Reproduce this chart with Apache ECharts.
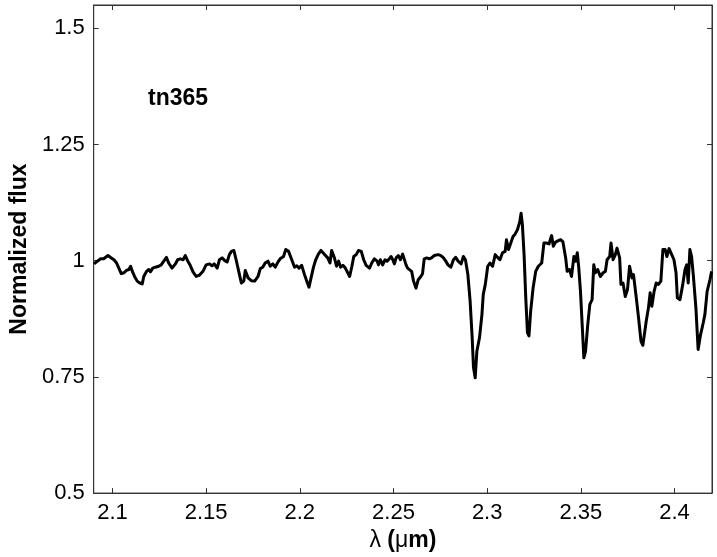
<!DOCTYPE html>
<html>
<head>
<meta charset="utf-8">
<script src="https://cdn.jsdelivr.net/npm/echarts@6/dist/echarts.min.js"></script>
<style>
  html, body { margin: 0; padding: 0; background: #fff; }
  #chart { width: 717px; height: 557px; }
</style>
</head>
<body>
<div id="chart"></div>
<script>
// wavelength (micron) and normalized flux
const wavelength = [
  2.0902, 2.0911, 2.0923, 2.0937, 2.0953, 2.0976, 2.0990, 2.1008, 2.1022, 2.1034,
  2.1047, 2.1061, 2.1075, 2.1088, 2.1097, 2.1106, 2.1118, 2.1132, 2.1146, 2.1159,
  2.1167, 2.1182, 2.1194, 2.1203, 2.1215, 2.1229, 2.1247, 2.1260, 2.1274, 2.1288,
  2.1300, 2.1318, 2.1336, 2.1348, 2.1362, 2.1377, 2.1389, 2.1401, 2.1415, 2.1430,
  2.1447, 2.1465, 2.1483, 2.1500, 2.1518, 2.1531, 2.1543, 2.1559, 2.1571, 2.1585,
  2.1600, 2.1612, 2.1624, 2.1635, 2.1648, 2.1660, 2.1674, 2.1688, 2.1701, 2.1709,
  2.1724, 2.1741, 2.1759, 2.1777, 2.1789, 2.1802, 2.1815, 2.1830, 2.1842, 2.1856,
  2.1869, 2.1883, 2.1895, 2.1913, 2.1925, 2.1940, 2.1957, 2.1972, 2.1984, 2.1996,
  2.2010, 2.2025, 2.2037, 2.2049, 2.2060, 2.2073, 2.2085, 2.2099, 2.2113, 2.2131,
  2.2149, 2.2161, 2.2170, 2.2184, 2.2196, 2.2207, 2.2218, 2.2230, 2.2243, 2.2253,
  2.2266, 2.2278, 2.2288, 2.2301, 2.2313, 2.2328, 2.2341, 2.2354, 2.2372, 2.2384,
  2.2398, 2.2413, 2.2420, 2.2430, 2.2442, 2.2455, 2.2466, 2.2478, 2.2487, 2.2496,
  2.2505, 2.2514, 2.2526, 2.2537, 2.2549, 2.2558, 2.2567, 2.2575, 2.2584, 2.2597,
  2.2607, 2.2620, 2.2632, 2.2646, 2.2655, 2.2664, 2.2678, 2.2691, 2.2703, 2.2717,
  2.2726, 2.2739, 2.2753, 2.2767, 2.2779, 2.2791, 2.2806, 2.2820, 2.2832, 2.2845,
  2.2861, 2.2873, 2.2884, 2.2897, 2.2909, 2.2920, 2.2927, 2.2936, 2.2945, 2.2959,
  2.2972, 2.2979, 2.2990, 2.3003, 2.3015, 2.3029, 2.3043, 2.3056, 2.3068, 2.3082,
  2.3096, 2.3103, 2.3114, 2.3126, 2.3138, 2.3149, 2.3162, 2.3174, 2.3181, 2.3188,
  2.3197, 2.3206, 2.3215, 2.3223, 2.3232, 2.3245, 2.3259, 2.3273, 2.3291, 2.3303,
  2.3316, 2.3330, 2.3344, 2.3353, 2.3365, 2.3380, 2.3392, 2.3404, 2.3419, 2.3427,
  2.3440, 2.3450, 2.3463, 2.3472, 2.3481, 2.3489, 2.3498, 2.3507, 2.3516, 2.3525,
  2.3537, 2.3548, 2.3560, 2.3569, 2.3578, 2.3590, 2.3604, 2.3619, 2.3631, 2.3640,
  2.3654, 2.3661, 2.3672, 2.3684, 2.3693, 2.3707, 2.3714, 2.3725, 2.3737, 2.3749,
  2.3760, 2.3773, 2.3781, 2.3796, 2.3808, 2.3821, 2.3831, 2.3838, 2.3849, 2.3861,
  2.3870, 2.3879, 2.3891, 2.3902, 2.3914, 2.3927, 2.3938, 2.3950, 2.3959, 2.3971,
  2.3985, 2.3997, 2.4008, 2.4015, 2.4029, 2.4044, 2.4056, 2.4065, 2.4073, 2.4082,
  2.4091, 2.4100, 2.4114, 2.4126, 2.4139, 2.4153, 2.4162, 2.4174, 2.4189, 2.4198
]
const flux = [
  0.993, 0.991, 1.000, 1.004, 1.004, 1.011, 1.007, 1.002, 0.995, 0.984,
  0.972, 0.974, 0.979, 0.981, 0.988, 0.977, 0.966, 0.956, 0.952, 0.950,
  0.966, 0.977, 0.981, 0.976, 0.984, 0.986, 0.988, 0.991, 0.999, 1.007,
  0.995, 0.984, 0.993, 1.002, 1.004, 1.002, 1.011, 1.000, 0.990, 0.976,
  0.966, 0.969, 0.977, 0.991, 0.993, 0.989, 0.993, 0.984, 1.002, 1.006,
  1.000, 0.997, 1.013, 1.020, 1.022, 1.002, 0.977, 0.952, 0.956, 0.979,
  0.963, 0.957, 0.956, 0.966, 0.983, 0.986, 0.995, 0.999, 0.988, 0.993,
  0.986, 0.997, 1.004, 1.009, 1.024, 1.020, 1.002, 0.986, 0.989, 0.984,
  0.990, 0.970, 0.956, 0.943, 0.963, 0.986, 1.002, 1.014, 1.022, 1.014,
  1.006, 0.995, 1.022, 1.007, 0.988, 0.999, 0.986, 0.990, 0.984, 0.981,
  0.966, 0.988, 1.009, 1.013, 1.022, 1.020, 1.002, 0.990, 0.984, 0.995,
  1.004, 0.999, 0.991, 1.002, 0.991, 1.002, 0.999, 1.004, 1.009, 1.002,
  0.993, 1.006, 1.011, 1.002, 1.014, 1.017, 0.991, 0.984, 0.988, 0.977,
  0.956, 0.941, 0.959, 0.966, 0.972, 1.004, 1.006, 1.004, 1.006, 1.011,
  1.007, 1.013, 1.011, 1.006, 0.999, 0.991, 0.986, 1.002, 1.007, 0.999,
  0.993, 1.009, 1.002, 0.970, 0.913, 0.834, 0.770, 0.748, 0.805, 0.834,
  0.884, 0.927, 0.949, 0.988, 0.995, 0.988, 1.013, 1.007, 1.002, 1.017,
  1.020, 1.045, 1.024, 1.038, 1.052, 1.057, 1.067, 1.084, 1.102, 1.077,
  1.013, 0.920, 0.845, 0.838, 0.891, 0.941, 0.977, 0.988, 0.995, 1.038,
  1.038, 1.036, 1.054, 1.031, 1.040, 1.043, 1.045, 1.041, 1.006, 0.977,
  0.981, 0.966, 1.009, 0.999, 1.017, 0.984, 0.934, 0.863, 0.791, 0.805,
  0.863, 0.906, 0.916, 0.991, 0.974, 0.981, 0.966, 0.974, 0.977, 1.002,
  1.009, 1.038, 1.002, 1.013, 1.027, 1.006, 0.949, 0.952, 0.923, 0.938,
  0.988, 0.963, 0.970, 0.920, 0.877, 0.827, 0.818, 0.820, 0.870, 0.899,
  0.931, 0.902, 0.934, 0.952, 0.949, 0.956, 1.024, 1.024, 1.009, 1.026,
  1.013, 1.002, 0.974, 0.920, 0.916, 0.949, 0.981, 0.991, 0.952, 1.024,
  1.009, 0.970, 0.899, 0.809, 0.841, 0.866, 0.884, 0.934, 0.959, 0.977
]
const xTicks = [2.1, 2.15, 2.2, 2.25, 2.3, 2.35, 2.4]
const yTicks = [0.5, 0.75, 1, 1.25, 1.5]

let points = wavelength.map(function (w, i) { return [w, flux[i]] })

let chart = echarts.init(document.getElementById('chart'), null, { renderer: 'canvas' })
let frameColor = '#333'
let tickFont = { fontFamily: 'Liberation Sans', fontSize: 22, color: '#000' }

let option = {
    animation: false,
    backgroundColor: '#fff',
    grid: {
        left: 91,
        right: 5,
        top: 5,
        bottom: 63,
        show: true,
        borderColor: frameColor,
        borderWidth: 1,
        backgroundColor: 'transparent'
    },
    xAxis: [
        {
            type: 'value',
            min: 2.09,
            max: 2.42,
            position: 'bottom',
            name: '{l|λ} {b|(}{l|μ}{b|m)}',
            nameLocation: 'middle',
            nameGap: 30,
            nameTextStyle: {
                fontFamily: 'Liberation Sans',
                fontSize: 23,
                color: '#000',
                rich: {
                    l: { fontFamily: 'Liberation Sans', fontSize: 23, color: '#000' },
                    b: { fontFamily: 'Liberation Sans', fontSize: 23, fontWeight: 'bold', color: '#000' }
                }
            },
            axisLine: { show: true, lineStyle: { color: frameColor, width: 1 } },
            axisTick: { show: true, inside: true, length: 5, customValues: xTicks, lineStyle: { color: frameColor } },
            axisLabel: Object.assign({ margin: 9, customValues: xTicks }, tickFont),
            splitLine: { show: false }
        },
        {
            type: 'value',
            min: 2.09,
            max: 2.42,
            position: 'top',
            axisLine: { show: true, lineStyle: { color: frameColor, width: 1 } },
            axisTick: { show: true, inside: true, length: 5, customValues: xTicks, lineStyle: { color: frameColor } },
            axisLabel: { show: false },
            splitLine: { show: false }
        }
    ],
    yAxis: [
        {
            type: 'value',
            min: 0.5,
            max: 1.55,
            position: 'left',
            name: 'Normalized flux',
            nameLocation: 'middle',
            nameGap: 62,
            nameTextStyle: { fontFamily: 'Liberation Sans', fontSize: 23, fontWeight: 'bold', color: '#000' },
            axisLine: { show: true, lineStyle: { color: frameColor, width: 1 } },
            axisTick: { show: true, inside: true, length: 5, customValues: yTicks, lineStyle: { color: frameColor } },
            axisLabel: Object.assign({ margin: 9, customValues: yTicks }, tickFont),
            splitLine: { show: false }
        },
        {
            type: 'value',
            min: 0.5,
            max: 1.55,
            position: 'right',
            axisLine: { show: true, lineStyle: { color: frameColor, width: 1 } },
            axisTick: { show: true, inside: true, length: 5, customValues: yTicks, lineStyle: { color: frameColor } },
            axisLabel: { show: false },
            splitLine: { show: false }
        }
    ],
    graphic: [
        {
            type: 'text',
            left: 148,
            top: 87,
            style: {
                text: 'tn365',
                fontFamily: 'Liberation Sans',
                fontSize: 23,
                fontWeight: 'bold',
                fill: '#000'
            }
        }
    ],
    series: [
        {
            name: 'tn365',
            type: 'line',
            xAxisIndex: 0,
            yAxisIndex: 0,
            data: points,
            symbol: 'none',
            smooth: false,
            clip: true,
            lineStyle: { color: '#000', width: 3, join: 'round' }
        }
    ]
}
chart.setOption(option)
</script>
</body>
</html>
